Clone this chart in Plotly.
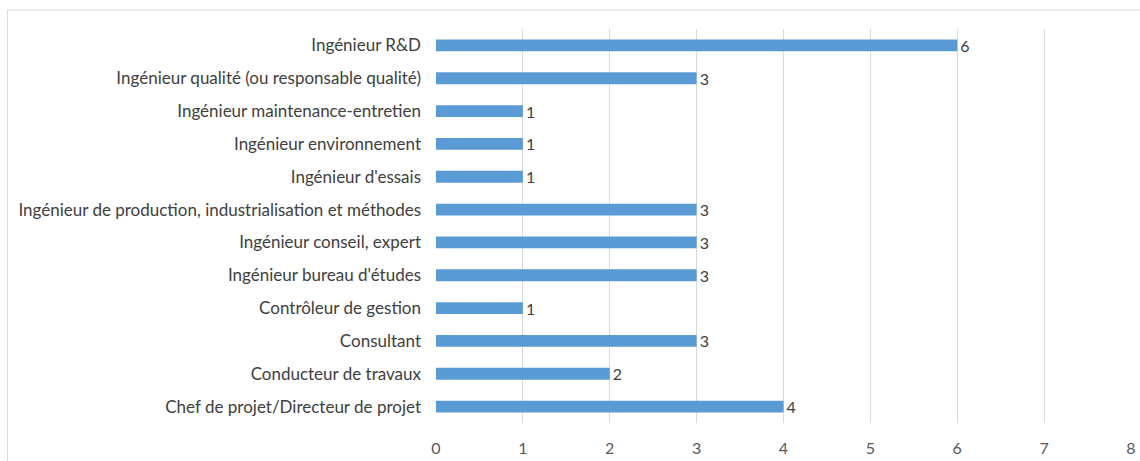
import plotly.graph_objects as go

categories = [
    "Chef de projet/Directeur de projet",
    "Conducteur de travaux",
    "Consultant",
    "Contrôleur de gestion",
    "Ingénieur bureau d'études",
    "Ingénieur conseil, expert",
    "Ingénieur de production, industrialisation et méthodes",
    "Ingénieur d'essais",
    "Ingénieur environnement",
    "Ingénieur maintenance-entretien",
    "Ingénieur qualité (ou responsable qualité)",
    "Ingénieur R&D",
]
values = [4, 2, 3, 1, 3, 3, 3, 1, 1, 1, 3, 6]
x_ticks = [0, 1, 2, 3, 4, 5, 6, 7, 8]

FONT = "Lato"
FS = 17
fig = go.Figure(go.Bar(
    x=values, y=categories, orientation="h",
    marker=dict(color="#5B9BD5", line=dict(width=0)),
    width=0.36,
    text=[str(v) for v in values], textposition="outside",
    constraintext="none",
    textfont=dict(family=FONT, size=FS - 1, color="#404040"),
    cliponaxis=False,
))
fig.update_layout(
    width=1140, height=461,
    margin=dict(l=436, r=9, t=29, b=38, autoexpand=False),
    paper_bgcolor="white", plot_bgcolor="white",
    showlegend=False,
    font=dict(family=FONT, size=FS, color="#404040"),
)
fig.update_xaxes(range=[0, 8], tickvals=x_ticks, showgrid=True, gridcolor="#d9d9d9",
                 gridwidth=1, zeroline=False, showline=False, automargin=False,
                 tickfont=dict(family=FONT, size=FS - 1, color="#595959"),
                 ticklabelstandoff=14, fixedrange=True)
fig.update_yaxes(showgrid=False, zeroline=False, showline=False, automargin=False,
                 tickfont=dict(family=FONT, size=FS, color="#404040"),
                 ticklabelstandoff=14, categoryorder="array", categoryarray=categories)
fig.add_shape(type="rect", xref="paper", yref="paper",
              x0=-0.6164, x1=1.1, y0=-0.3, y1=1.0482,
              line=dict(color="#d9d9d9", width=1), fillcolor="rgba(0,0,0,0)", layer="below")
fig.write_html("out.html", config={"displayModeBar": False},
               post_script="document.body.style.margin='0';document.body.style.overflow='hidden';")
